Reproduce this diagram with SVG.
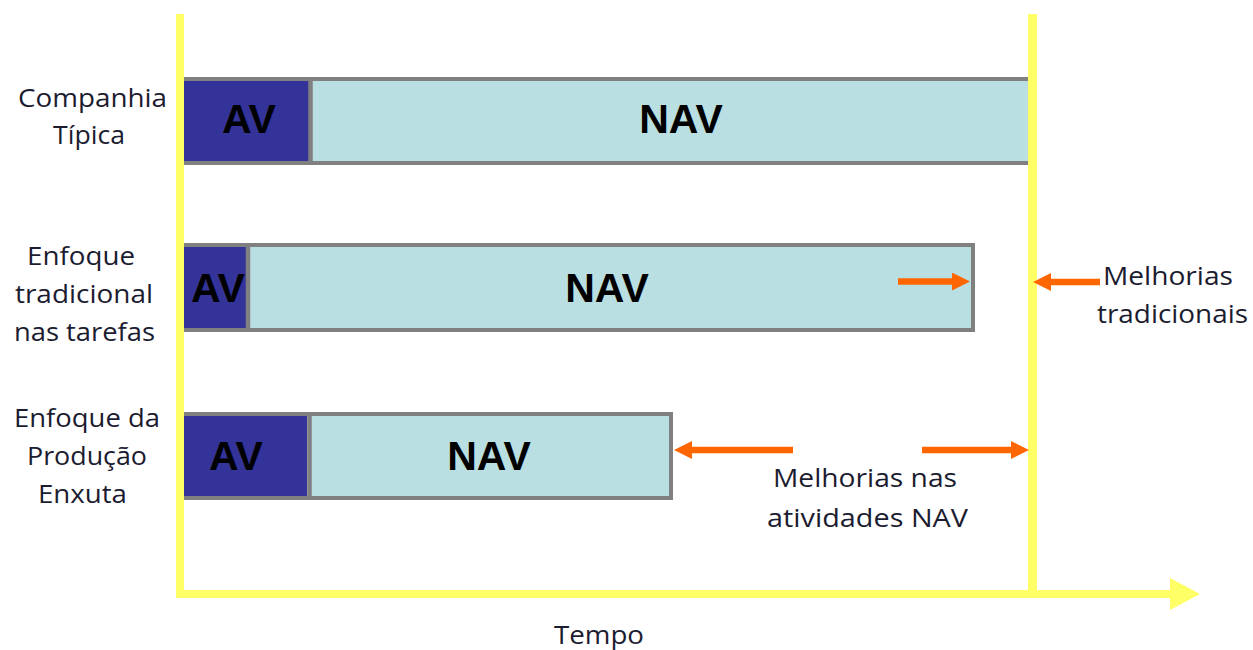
<svg xmlns="http://www.w3.org/2000/svg" width="1253" height="650" viewBox="0 0 1253 650">
  <style>
    .bar { fill: #b9dfe2; stroke: #808080; stroke-width: 4; }
    .av { fill: #333399; }
    .div { stroke: #808080; stroke-width: 4.5; }
    .code { font-family: "Liberation Sans", Arial, sans-serif; font-weight: bold; font-size: 41px; fill: #000; text-anchor: middle; }
    .lbl { font-family: "Open Sans", "Noto Sans", sans-serif; font-size: 25px; fill: #1c1c30; }
    .axis { stroke: #ffff66; fill: none; }
    .imp { stroke: #ff6600; stroke-width: 6.5; fill: none; marker-end: url(#head); }
  </style>
  <defs>
    <marker id="head" viewBox="0 0 18 18" markerWidth="18" markerHeight="18" markerUnits="userSpaceOnUse" refX="0" refY="9" orient="auto">
      <path d="M0,0 L18,9 L0,18 z" fill="#ff6600"/>
    </marker>
  </defs>

  <rect width="1253" height="650" fill="#ffffff"/>

  <!-- Typical company -->
  <g id="bar-tipica">
    <rect class="bar" x="183" y="79" width="850" height="84"/>
    <rect class="av" x="183" y="81" width="126" height="80"/>
    <line class="div" x1="310.5" y1="81" x2="310.5" y2="161"/>
    <text class="code" x="249" y="133">AV</text>
    <text class="code" x="681" y="133">NAV</text>
  </g>

  <!-- Traditional task focus -->
  <g id="bar-tradicional">
    <rect class="bar" x="182" y="245" width="791" height="85"/>
    <rect class="av" x="182" y="247" width="64" height="81"/>
    <line class="div" x1="248" y1="247" x2="248" y2="328"/>
    <text class="code" x="218" y="302">AV</text>
    <text class="code" x="607" y="302">NAV</text>
  </g>

  <!-- Lean production focus -->
  <g id="bar-enxuta">
    <rect class="bar" x="180" y="414" width="491" height="84"/>
    <rect class="av" x="180" y="416" width="127" height="80"/>
    <line class="div" x1="309.5" y1="416" x2="309.5" y2="496"/>
    <text class="code" x="236" y="470">AV</text>
    <text class="code" x="489" y="470">NAV</text>
  </g>

  <!-- Time axis and limit line -->
  <g id="eixo-tempo">
    <line class="axis" x1="180" y1="14" x2="180" y2="598" stroke-width="8"/>
    <line class="axis" x1="1032.5" y1="14" x2="1032.5" y2="594" stroke-width="9"/>
    <line class="axis" x1="176" y1="594" x2="1172" y2="594" stroke-width="8"/>
    <polygon points="1170,578 1200,594 1170,610" fill="#ffff66"/>
    <text class="lbl" x="554" y="644" textLength="90" lengthAdjust="spacingAndGlyphs">Tempo</text>
  </g>

  <!-- Row labels -->
  <g id="rotulos">
    <text class="lbl" x="18" y="107" textLength="149" lengthAdjust="spacingAndGlyphs">Companhia</text>
    <text class="lbl" x="53" y="144" textLength="72" lengthAdjust="spacingAndGlyphs">Típica</text>
    <text class="lbl" x="27" y="265" textLength="108" lengthAdjust="spacingAndGlyphs">Enfoque</text>
    <text class="lbl" x="15" y="303" textLength="138" lengthAdjust="spacingAndGlyphs">tradicional</text>
    <text class="lbl" x="14" y="341" textLength="141" lengthAdjust="spacingAndGlyphs">nas tarefas</text>
    <text class="lbl" x="14" y="427" textLength="146" lengthAdjust="spacingAndGlyphs">Enfoque da</text>
    <text class="lbl" x="27" y="465" textLength="120" lengthAdjust="spacingAndGlyphs">Produção</text>
    <text class="lbl" x="38" y="503" textLength="89" lengthAdjust="spacingAndGlyphs">Enxuta</text>
  </g>

  <!-- Improvement labels -->
  <g id="melhorias-tradicionais">
    <text class="lbl" x="1103" y="285" textLength="130" lengthAdjust="spacingAndGlyphs">Melhorias</text>
    <text class="lbl" x="1097" y="323" textLength="151" lengthAdjust="spacingAndGlyphs">tradicionais</text>
  </g>
  <g id="melhorias-nav">
    <text class="lbl" x="773" y="487" textLength="184" lengthAdjust="spacingAndGlyphs">Melhorias nas</text>
    <text class="lbl" x="767" y="527" textLength="201" lengthAdjust="spacingAndGlyphs">atividades NAV</text>
  </g>

  <!-- Improvement arrows -->
  <g id="conectores">
    <path class="imp" d="M898,281.5 H952"/>
    <path class="imp" d="M1100,282 H1051"/>
    <path class="imp" d="M793,450 H692"/>
    <path class="imp" d="M922,450 H1011"/>
  </g>
</svg>
